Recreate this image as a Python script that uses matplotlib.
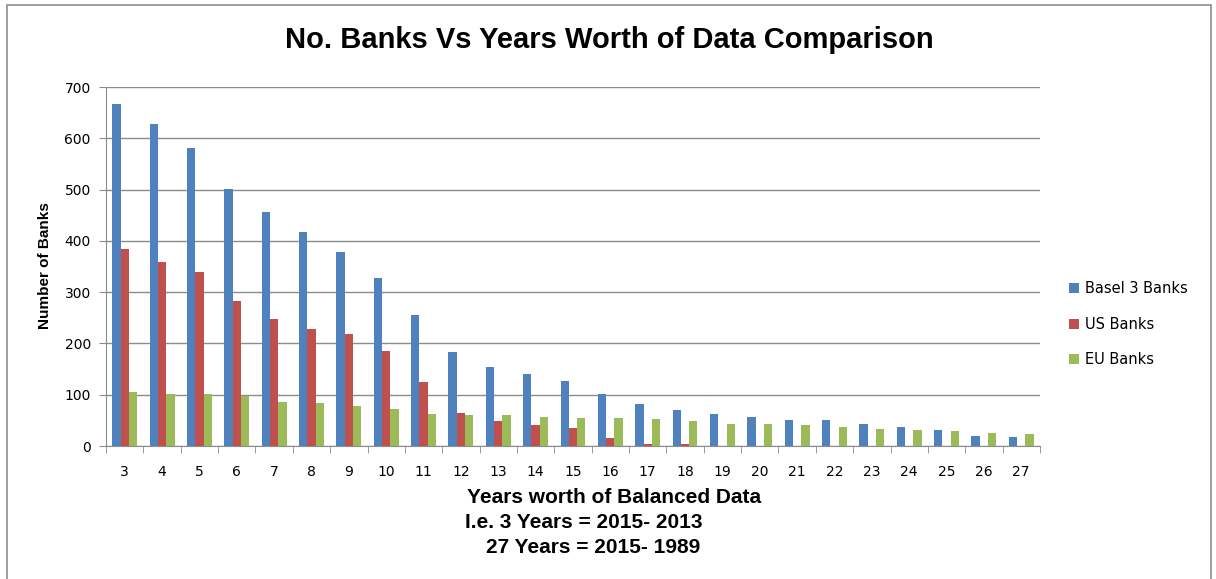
import matplotlib.pyplot as plt
import matplotlib.patches as mpatches
import numpy as np

# Years of balanced data (3 = 2015-2013 ... 27 = 2015-1989)
years = list(range(3, 28))

basel3_banks = [666, 627, 581, 502, 457, 418, 379, 328, 255, 183, 155, 141, 127,
                101, 82, 71, 63, 57, 51, 51, 43, 37, 31, 20, 17]
us_banks = [384, 359, 340, 283, 247, 229, 218, 185, 125, 65, 48, 40, 35,
            16, 4, 3, 0, 0, 0, 0, 0, 0, 0, 0, 0]
eu_banks = [106, 102, 102, 97, 86, 83, 78, 72, 63, 60, 60, 57, 54,
            54, 52, 48, 43, 42, 40, 37, 34, 31, 29, 26, 24]

series = [
    ("Basel 3 Banks", basel3_banks, "#4F81BD"),
    ("US Banks", us_banks, "#C0504D"),
    ("EU Banks", eu_banks, "#9BBB59"),
]

fig = plt.figure(figsize=(12.16, 5.79), dpi=100)
ax = fig.add_axes([0.0872, 0.2297, 0.768, 0.62])

x = np.arange(len(years))
w = 0.222
for i, (name, vals, col) in enumerate(series):
    ax.bar(x + (i - 1) * w, vals, width=w, color=col, label=name, zorder=3)

ax.set_xlim(-0.5, len(years) - 0.5)
ax.set_ylim(0, 700)
ax.set_yticks(range(0, 701, 100))
ax.yaxis.grid(True, color="#8c8c8c", linewidth=1.0, zorder=0)

# category labels centred, tick marks on the category boundaries
ax.set_xticks(x)
ax.set_xticklabels([str(y) for y in years], fontsize=10, family="DejaVu Sans")
ax.set_xticks(np.arange(-0.5, len(years)), minor=True)
ax.tick_params(axis="x", which="major", length=0, pad=14)
ax.tick_params(axis="x", which="minor", length=5, color="#8c8c8c")
ax.tick_params(axis="y", length=5, color="#8c8c8c", labelsize=10, pad=6)

for s in ("top", "right"):
    ax.spines[s].set_visible(False)
for s in ("left", "bottom"):
    ax.spines[s].set_color("#8c8c8c")

bold = dict(fontweight="bold", family="Liberation Sans")
fig.text(0.037, 0.542, "Number of Banks", rotation=90, ha="center", va="center",
         fontsize=11, **bold)
fig.text(0.501, 0.931, "No. Banks Vs Years Worth of Data Comparison",
         ha="center", va="center", fontsize=21, **bold)
fig.text(0.505, 0.140, "Years worth of Balanced Data", ha="center", va="center",
         fontsize=15, **bold)
fig.text(0.382, 0.097, "I.e. 3 Years = 2015- 2013", ha="left", va="center",
         fontsize=15, **bold)
fig.text(0.400, 0.054, "27 Years = 2015- 1989", ha="left", va="center",
         fontsize=15, **bold)

fig.legend(*ax.get_legend_handles_labels(), loc="center left",
           bbox_to_anchor=(0.868, 0.44), bbox_transform=fig.transFigure,
           frameon=False, fontsize=10.5, handlelength=0.7, handleheight=0.7,
           handletextpad=0.4, labelspacing=1.4)

# thin frame round the chart area (open at the bottom edge)
fig.patches.append(mpatches.Rectangle((0.0058, -0.02), 0.990, 1.011,
                                      transform=fig.transFigure, fill=False,
                                      edgecolor="#8c8c8c", linewidth=1.2))

fig.savefig("out.png", dpi=100)
